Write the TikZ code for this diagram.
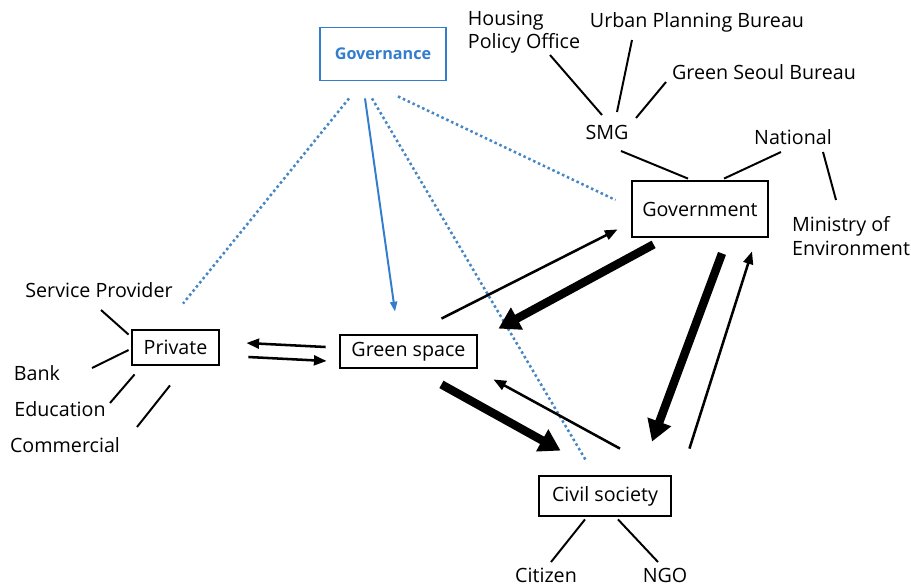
\documentclass[tikz,border=0pt]{standalone}
\usepackage{fontspec}
\setmainfont{Open Sans}
\usetikzlibrary{arrows.meta,shapes,positioning}

\definecolor{govBlue}{RGB}{50,125,205}
\definecolor{dotBlue}{RGB}{70,135,195}

\begin{document}
\begin{tikzpicture}[x=0.025cm,y=-0.025cm]

\useasboundingbox (0,0) rectangle (911,587);

\tikzset{
	actorBox/.style={
		draw,
		rectangle,
		line width=2pt,
		inner sep=0pt,
		font=\fontsize{14}{16.5}\selectfont
	}
}

\tikzset{
	governanceBox/.style={
		draw=govBlue,
		text=govBlue,
		rectangle,
		line width=1.3pt,
		inner sep=0pt,
		font=\fontsize{11.5}{13}\selectfont\bfseries
	}
}

\tikzset{
	partLabel/.style={
		inner sep=0pt,
		align=left,
		font=\fontsize{14}{16.5}\selectfont
	}
}

\tikzset{
	thinArrow/.style={-{Triangle[length=9pt,width=7pt]}, line width=1.8pt},
	thickArrow/.style={-{Triangle[length=15pt,width=17pt]}, line width=6pt},
	govArrow/.style={-{Triangle[length=7pt,width=5pt]}, line width=1.4pt, govBlue},
	dotLink/.style={dotBlue, line width=1.8pt, dash pattern=on 1.8pt off 2pt},
	tieLine/.style={line width=1.4pt}
}

% main actors
\node[governanceBox, minimum width=3.15cm, minimum height=1.325cm](Govn) at (383,54) {Governance};
\node[actorBox, minimum width=3.4cm, minimum height=1.4cm](Gov) at (700,209) {Government};
\node[actorBox, minimum width=2.175cm, minimum height=0.875cm](Priv) at (175.5,347.5) {Private};
\node[actorBox, minimum width=3.425cm, minimum height=0.825cm](GS) at (408.5,351.5) {Green space};
\node[actorBox, minimum width=3.3cm, minimum height=1.0cm](Civ) at (605,496) {Civil society};

% sub actors
\node[partLabel](HPO) at (524,32) {Housing\\Policy Office};
\node[partLabel](UPB) at (697,22) {Urban Planning Bureau};
\node[partLabel](GSB) at (764,72) {Green Seoul Bureau};
\node[partLabel](SMG) at (607,132) {SMG};
\node[partLabel](Nat) at (793,137) {National};
\node[partLabel](MoE) at (851,236) {Ministry of\\Environment};

\node[partLabel](SP) at (99,290) {Service Provider};
\node[partLabel](Bank) at (37,373) {Bank};
\node[partLabel](Edu) at (60,409) {Education};
\node[partLabel](Com) at (65,445) {Commercial};

\node[partLabel](Cit) at (546,575) {Citizen};
\node[partLabel](NGO) at (665,575) {NGO};

% governance links
\draw[govArrow] ([shift={(-18,17)}]Govn.south) -- ([shift={(-13.5,-22)}]GS.north);
\draw[dotLink] ([shift={(-34,17)}]Govn.south) -- ([shift={(7.5,-25)}]Priv.north);
\draw[dotLink] ([shift={(-11,17)}]Govn.south) -- ([shift={(-19,-14)}]Civ.north);
\draw[dotLink] ([shift={(15,15)}]Govn.south) -- ([shift={(-15,-9)}]Gov.west);

% flows
\draw[thinArrow] ([shift={(-37,-15)}]GS.north east) -- ([shift={(-13,-9)}]Gov.south west);
\draw[thickArrow] ([shift={(23,6)}]Gov.south west) -- ([shift={(20,-5)}]GS.north east);
\draw[thickArrow] ([shift={(-37,15)}]GS.south east) -- ([shift={(23,-24)}]Civ.north west);
\draw[thinArrow] ([shift={(15,-26)}]Civ.north) -- ([shift={(15,10)}]GS.south east);
\draw[thickArrow] ([shift={(22,15)}]Gov.south) -- ([shift={(47,-33)}]Civ.north);
\draw[thinArrow] ([shift={(17,-26)}]Civ.north east) -- ([shift={(52,13)}]Gov.south);
\draw[thinArrow] ([shift={(-13,-4.5)}]GS.west) -- ([shift={(26,-4.5)}]Priv.east);
\draw[thinArrow] ([shift={(28,9.5)}]Priv.east) -- ([shift={(-12,9.5)}]GS.west);

% membership lines
\draw[tieLine] ([shift={(26,23)}]HPO.center) -- ([shift={(-5,-17)}]SMG.center);
\draw[tieLine] ([shift={(-65,18)}]UPB.center) -- ([shift={(10,-20)}]SMG.center);
\draw[tieLine] ([shift={(-98,10)}]GSB.center) -- ([shift={(29,-14)}]SMG.center);
\draw[tieLine] ([shift={(14,19)}]SMG.center) -- ([shift={(-12,-1)}]Gov.north);
\draw[tieLine] ([shift={(-12,15)}]Nat.center) -- ([shift={(24,-1)}]Gov.north);
\draw[tieLine] ([shift={(30,15)}]Nat.center) -- ([shift={(-15,-36)}]MoE.center);

\draw[tieLine] ([shift={(2,20)}]SP.center) -- ([shift={(-2,6)}]Priv.north west);
\draw[tieLine] ([shift={(55,-5)}]Bank.center) -- ([shift={(-2,2.5)}]Priv.west);
\draw[tieLine] ([shift={(50,-6)}]Edu.center) -- ([shift={(4,8)}]Priv.south west);
\draw[tieLine] ([shift={(72,-18)}]Com.center) -- ([shift={(-5.5,19)}]Priv.south);

\draw[tieLine] ([shift={(-20,2)}]Civ.south) -- ([shift={(5,-13)}]Cit.center);
\draw[tieLine] ([shift={(13,2)}]Civ.south) -- ([shift={(-7,-13)}]NGO.center);

\end{tikzpicture}
\end{document}
